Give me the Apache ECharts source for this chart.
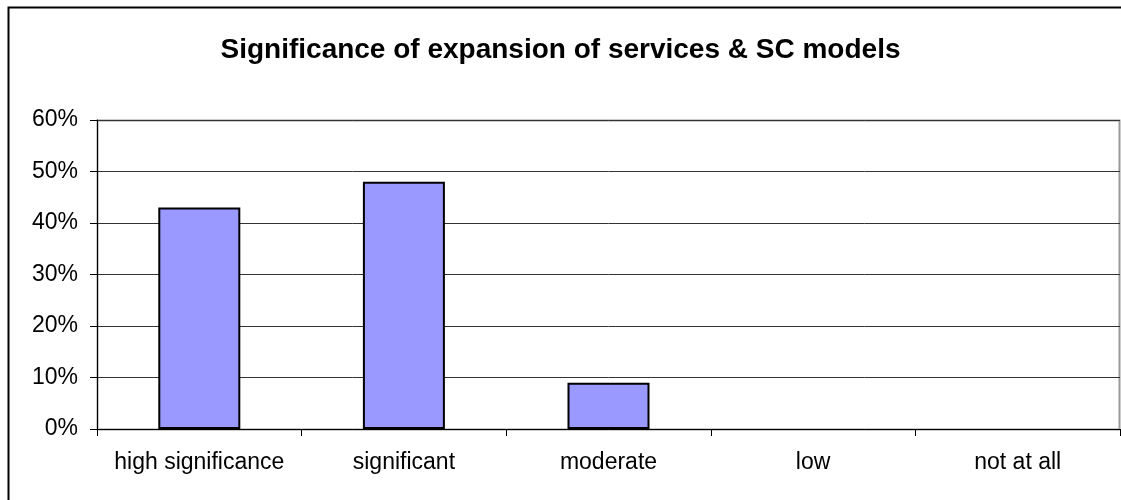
<!DOCTYPE html>
<html>
<head>
<meta charset="utf-8">
<style>
  html, body { margin: 0; padding: 0; background: #fff; }
  #chart { width: 1121px; height: 500px; }
</style>
<script src="https://cdn.jsdelivr.net/npm/echarts@6/dist/echarts.min.js"></script>
</head>
<body>
<div id="chart"></div>
<script>
// Survey answers: share of respondents per significance level
const categories = ['high significance', 'significant', 'moderate', 'low', 'not at all'];
const shares = [43, 48, 9, 0, 0];
const yTicks = [0, 10, 20, 30, 40, 50, 60];

const FONT = 'Liberation Sans, Arial, sans-serif';
const chart = echarts.init(document.getElementById('chart'), null, { renderer: 'canvas' });

// empty categories get no outline so nothing sits on the axis line
const barData = shares.map(v => ({
  value: v,
  itemStyle: v === 0 ? { borderWidth: 0 } : undefined
}));

chart.setOption({
  animation: false,
  backgroundColor: '#ffffff',
  title: {
    text: 'Significance of expansion of services & SC models',
    left: 'center',
    top: 31,
    textStyle: {
      fontFamily: FONT,
      fontSize: 28,
      fontWeight: 'bold',
      color: '#000'
    }
  },
  graphic: [{
    type: 'rect',
    shape: { x: 8.5, y: 7.5, width: 1130, height: 510 },
    style: { fill: 'none', stroke: '#000', lineWidth: 2 },
    silent: true
  }, {
    type: 'rect',
    shape: { x: 97.5, y: 120.5, width: 1022, height: 309 },
    style: { fill: 'none', stroke: '#9a9a9a', lineWidth: 2 },
    silent: true,
    z: -1
  }],
  grid: {
    left: 97,
    right: 1,
    top: 120,
    bottom: 71,
    containLabel: false
  },
  xAxis: {
    type: 'category',
    data: categories,
    axisLine: { lineStyle: { color: '#000', width: 1 } },
    axisTick: { show: true, interval: 0, length: 7, inside: false, lineStyle: { color: '#000' } },
    axisLabel: {
      interval: 0,
      margin: 22,
      fontFamily: FONT,
      fontSize: 23,
      color: '#000'
    }
  },
  yAxis: {
    type: 'value',
    min: yTicks[0],
    max: yTicks[yTicks.length - 1],
    interval: 10,
    axisLine: { show: true, lineStyle: { color: '#000', width: 1 } },
    axisTick: { show: true, length: 7, lineStyle: { color: '#000' } },
    axisLabel: {
      margin: 19,
      fontFamily: FONT,
      fontSize: 23,
      color: '#000',
      formatter: v => v + '%'
    },
    splitLine: { show: true, lineStyle: { color: '#333', width: 1 } }
  },
  series: [{
    type: 'bar',
    data: barData,
    barWidth: 82,
    itemStyle: {
      color: '#9999ff',
      borderColor: '#000',
      borderWidth: 2
    }
  }]
});
</script>
</body>
</html>
